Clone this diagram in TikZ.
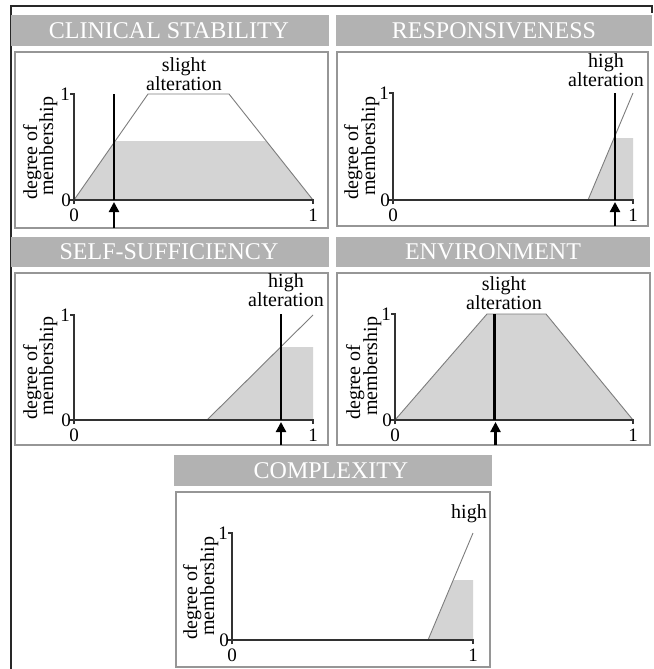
\documentclass[tikz,border=0pt]{standalone}
\usepackage{fontspec}
\setmainfont{Liberation Serif}
\usetikzlibrary{arrows.meta}
\definecolor{hdr}{RGB}{178,178,178}
\definecolor{fillg}{RGB}{212,212,212}
\definecolor{edgeg}{RGB}{125,125,125}
\definecolor{boxg}{RGB}{150,150,150}
\definecolor{axisg}{RGB}{50,50,50}
\definecolor{frameg}{RGB}{40,40,40}
\tikzset{
  hdrbar/.style={fill=hdr, draw=none},
  hdrtext/.style={text=white, font=\fontsize{24}{28}\selectfont, inner sep=0pt},
  panelbox/.style={draw=boxg, line width=1.2pt, fill=white},
  axisline/.style={draw=axisg, line width=1.1pt},
  mfline/.style={draw=edgeg, line width=0.9pt, line join=round},
  mffill/.style={fill=fillg, draw=none},
  cutline/.style={draw=black, line width=2.6pt},
  inarrow/.style={draw=black, line width=2.2pt, -{Triangle[length=10pt,width=10pt]}},
  lbl/.style={font=\fontsize{20}{18}\selectfont, inner sep=0pt, anchor=south, align=center},
  num/.style={font=\fontsize{19}{19}\selectfont, inner sep=0pt},
  ylab/.style={font=\fontsize{20}{20}\selectfont, inner sep=0pt, rotate=90, anchor=base west},
}
\begin{document}
\begin{tikzpicture}[x=1pt,y=-1pt]
\useasboundingbox (0,0) rectangle (653,669);
\fill[white] (0,0) rectangle (653,669);
% outer frame
\draw[line width=1.2pt, frameg] (11,669) -- (11,6) -- (652,6) -- (652,13);

% ================= headers and boxes
\fill[hdrbar] (11,15) rectangle (329,46);
\node[hdrtext] (h1) at (169,30.5) {CLINICAL STABILITY};
\draw[panelbox] (15,52) rectangle (328,228);

\fill[hdrbar] (336,15) rectangle (652,46);
\node[hdrtext] (h2) at (494,30.5) {RESPONSIVENESS};
\draw[panelbox] (337,52) rectangle (648,226);

\fill[hdrbar] (11,237) rectangle (329,267);
\node[hdrtext] (h3) at (169,252) {SELF-SUFFICIENCY};
\draw[panelbox] (15,273) rectangle (328,445);

\fill[hdrbar] (336,237) rectangle (650,267);
\node[hdrtext] (h4) at (493,252) {ENVIRONMENT};
\draw[panelbox] (337,273) rectangle (650,445);

\fill[hdrbar] (174,455) rectangle (492,486);
\node[hdrtext] (h5) at (331,470.5) {COMPLEXITY};
\draw[panelbox] (176,492) rectangle (490,667);

% ================= panel 1: clinical stability
\begin{scope}[shift={(74,200)}]
  \begin{scope}
    \clip (0,-59) rectangle (239,0);
    \fill[mffill] (0,0) -- (74,-106) -- (155,-106) -- (239,0) -- cycle;
  \end{scope}
  \draw[mfline] (0,0) -- (74,-106) -- (155,-106) -- (239,0);
  \draw[axisline] (-5,0) -- (239,0) -- (239,4);
  \draw[axisline] (0,4) -- (0,-106) -- (-4,-106);
  \node[num, anchor=base east] (p1y1) at (-4,-99.5) {1};
  \node[num, anchor=base east] (p1y0) at (-3,6.5) {0};
  \node[num, anchor=base] (p1x0) at (0,21) {0};
  \node[num, anchor=base] (p1x1) at (239,21) {1};
  \node[ylab] (p1la) at (-37,0) {degree of};
  \node[ylab] (p1lb) at (-21,-4) {membership};
  \node[lbl] (p1t) at (110,-109) {slight\\alteration};
  \coordinate (p1ct) at (40,-106);
  \coordinate (p1cb) at (40,0);
  \draw[cutline] (p1ct) -- (p1cb);
  \coordinate (p1as) at (40,28);
  \coordinate (p1ae) at (40,2);
  \draw[inarrow] (p1as) -- (p1ae);
\end{scope}

% ================= panel 2: responsiveness
\begin{scope}[shift={(393,200)}]
  \begin{scope}
    \clip (0,-62) rectangle (240,0);
    \fill[mffill] (195,0) -- (240,-107) -- (240,0) -- cycle;
  \end{scope}
  \draw[mfline] (195,0) -- (240,-107);
  \draw[axisline] (-5,0) -- (240,0) -- (240,4);
  \draw[axisline] (0,4) -- (0,-107) -- (-4,-107);
  \node[num, anchor=base east] (p2y1) at (-4,-100.5) {1};
  \node[num, anchor=base east] (p2y0) at (-3,6.5) {0};
  \node[num, anchor=base] (p2x0) at (0,21) {0};
  \node[num, anchor=base] (p2x1) at (240,21) {1};
  \node[ylab] (p2la) at (-35,0) {degree of};
  \node[ylab] (p2lb) at (-18,-4) {membership};
  \node[lbl] (p2t) at (213,-113) {high\\alteration};
  \coordinate (p2ct) at (222,-107);
  \coordinate (p2cb) at (222,0);
  \draw[cutline] (p2ct) -- (p2cb);
  \coordinate (p2as) at (222,26);
  \coordinate (p2ae) at (222,2);
  \draw[inarrow] (p2as) -- (p2ae);
\end{scope}

% ================= panel 3: self-sufficiency
\begin{scope}[shift={(74,420)}]
  \begin{scope}
    \clip (0,-73) rectangle (239,0);
    \fill[mffill] (133,0) -- (239,-105) -- (239,0) -- cycle;
  \end{scope}
  \draw[mfline] (133,0) -- (239,-105);
  \draw[axisline] (-5,0) -- (239,0) -- (239,4);
  \draw[axisline] (0,4) -- (0,-105) -- (-4,-105);
  \node[num, anchor=base east] (p3y1) at (-4,-98.5) {1};
  \node[num, anchor=base east] (p3y0) at (-3,6.5) {0};
  \node[num, anchor=base] (p3x0) at (0,21) {0};
  \node[num, anchor=base] (p3x1) at (239,21) {1};
  \node[ylab] (p3la) at (-37,0) {degree of};
  \node[ylab] (p3lb) at (-21,-4) {membership};
  \node[lbl] (p3t) at (212,-113) {high\\alteration};
  \coordinate (p3ct) at (207,-106);
  \coordinate (p3cb) at (207,0);
  \draw[cutline] (p3ct) -- (p3cb);
  \coordinate (p3as) at (207,25);
  \coordinate (p3ae) at (207,2);
  \draw[inarrow] (p3as) -- (p3ae);
\end{scope}

% ================= panel 4: environment
\begin{scope}[shift={(395,420)}]
  \fill[mffill] (0,0) -- (92,-106) -- (151,-106) -- (238,0) -- cycle;
  \draw[mfline] (0,0) -- (92,-106) -- (151,-106) -- (238,0);
  \draw[axisline] (-5,0) -- (238,0) -- (238,4);
  \draw[axisline] (0,4) -- (0,-106) -- (-4,-106);
  \node[num, anchor=base east] (p4y1) at (-4,-99.5) {1};
  \node[num, anchor=base east] (p4y0) at (-3,6.5) {0};
  \node[num, anchor=base] (p4x0) at (0,21) {0};
  \node[num, anchor=base] (p4x1) at (238,21) {1};
  \node[ylab] (p4la) at (-35,0) {degree of};
  \node[ylab] (p4lb) at (-18,-4) {membership};
  \node[lbl] (p4t) at (109,-110) {slight\\alteration};
  \coordinate (p4ct) at (99.5,-106);
  \coordinate (p4cb) at (99.5,0);
  \draw[cutline] (p4ct) -- (p4cb);
  \coordinate (p4as) at (100.5,25);
  \coordinate (p4ae) at (100.5,2);
  \draw[inarrow] (p4as) -- (p4ae);
\end{scope}

% ================= panel 5: complexity
\begin{scope}[shift={(232,640)}]
  \begin{scope}
    \clip (0,-60) rectangle (241,0);
    \fill[mffill] (196,0) -- (241,-107) -- (241,0) -- cycle;
  \end{scope}
  \draw[mfline] (196,0) -- (241,-107);
  \draw[axisline] (-5,0) -- (241,0) -- (241,4);
  \draw[axisline] (0,4) -- (0,-107) -- (-4,-107);
  \node[num, anchor=base east] (p5y1) at (-4,-100.5) {1};
  \node[num, anchor=base east] (p5y0) at (-3,6.5) {0};
  \node[num, anchor=base] (p5x0) at (0,21) {0};
  \node[num, anchor=base] (p5x1) at (241,21) {1};
  \node[ylab] (p5la) at (-35,0) {degree of};
  \node[ylab] (p5lb) at (-18,-4) {membership};
  \node[lbl, anchor=base] (p5ta) at (237,-122) {high};
\end{scope}
\end{tikzpicture}
\end{document}
